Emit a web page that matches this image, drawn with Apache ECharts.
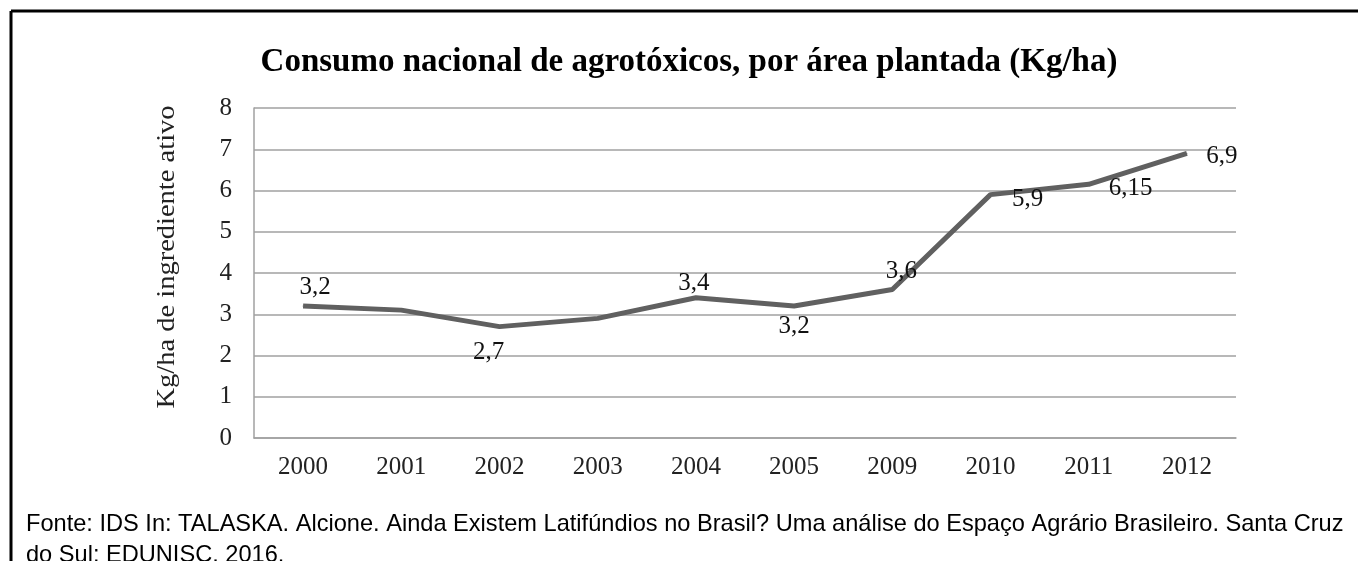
<!DOCTYPE html>
<html>
<head>
<meta charset="utf-8">
<script src="https://cdn.jsdelivr.net/npm/echarts@6/dist/echarts.min.js"></script>
<style>
html,body{margin:0;padding:0;background:#fff;}
#c{width:1358px;height:561px;}
</style>
</head>
<body>
<div id="c"></div>
<script>
var categories = ['2000','2001','2002','2003','2004','2005','2009','2010','2011','2012'];
var values = [3.2, 3.1, 2.7, 2.9, 3.4, 3.2, 3.6, 5.9, 6.15, 6.9];
var labeled = [true, false, true, false, true, true, true, true, true, true];
var yTicks = [0,1,2,3,4,5,6,7,8];
var titleText = 'Consumo nacional de agrotóxicos, por área plantada (Kg/ha)';
var yName = 'Kg/ha de ingrediente ativo';
var footer1 = 'Fonte: IDS In: TALASKA. Alcione. Ainda Existem Latifúndios no Brasil? Uma análise do Espaço Agrário Brasileiro. Santa Cruz';
var footer2 = 'do Sul: EDUNISC. 2016.';

// label offsets relative to each point (styling only)
var labelOffsets = [[12,-19],[0,0],[-11,26],[0,0],[-2,-14],[0,20],[9,-18],[37,5],[42,4],[35,3]];

var serif = '"Liberation Serif","Times New Roman",serif';
var chart = echarts.init(document.getElementById('c'), null, {renderer:'canvas'});

var seriesData = values.map(function(v, i){
  return {
    value: v,
    label: {
      show: labeled[i],
      position: 'inside',
      offset: labelOffsets[i],
      formatter: function(p){ return String(p.value).replace('.', ','); }
    }
  };
});

chart.setOption({
  animation: false,
  grid: {left: 254, top: 108, right: 122, bottom: 123, containLabel: false},
  xAxis: {
    type: 'category',
    data: categories,
    boundaryGap: true,
    axisLine: {show: true, lineStyle: {color: '#a0a0a0', width: 1.5}},
    axisTick: {show: false},
    axisLabel: {color: '#222', fontFamily: serif, fontSize: 25, margin: 17}
  },
  yAxis: {
    type: 'value',
    min: yTicks[0],
    max: yTicks[yTicks.length-1],
    interval: 1,
    axisLine: {show: true, lineStyle: {color: '#a0a0a0', width: 1.5}},
    axisTick: {show: false},
    splitLine: {show: true, lineStyle: {color: '#a0a0a0', width: 1.5}},
    axisLabel: {color: '#222', fontFamily: serif, fontSize: 25, margin: 22}
  },
  series: [{
    type: 'line',
    data: seriesData,
    symbol: 'circle',
    symbolSize: 1,
    showSymbol: true,
    itemStyle: {color: '#606060'},
    lineStyle: {color: '#606060', width: 5, cap: 'butt'},
    label: {color: '#111', fontFamily: serif, fontSize: 25},
    z: 3
  }],
  graphic: [
    {type: 'line', shape: {x1: 11, y1: 11, x2: 1358, y2: 11}, style: {stroke: '#000', lineWidth: 3}},
    {type: 'line', shape: {x1: 11, y1: 11, x2: 11, y2: 561}, style: {stroke: '#000', lineWidth: 3}},
    {type: 'text', x: 689, y: 62, style: {text: titleText, fill: '#000', font: 'bold 33px ' + serif, textAlign: 'center', textVerticalAlign: 'middle'}},
    {type: 'text', x: 168, y: 257, rotation: Math.PI/2, scaleY: 0.85, style: {text: yName, fill: '#222', font: '28.5px ' + serif, textAlign: 'center', textVerticalAlign: 'middle'}},
    {type: 'text', x: 26, y: 524, style: {text: footer1, fill: '#000', font: '23.6px "Liberation Sans", Arial, sans-serif', textAlign: 'left', textVerticalAlign: 'middle'}},
    {type: 'text', x: 26, y: 555, style: {text: footer2, fill: '#000', font: '23.6px "Liberation Sans", Arial, sans-serif', textAlign: 'left', textVerticalAlign: 'middle'}}
  ]
});
</script>
</body>
</html>
